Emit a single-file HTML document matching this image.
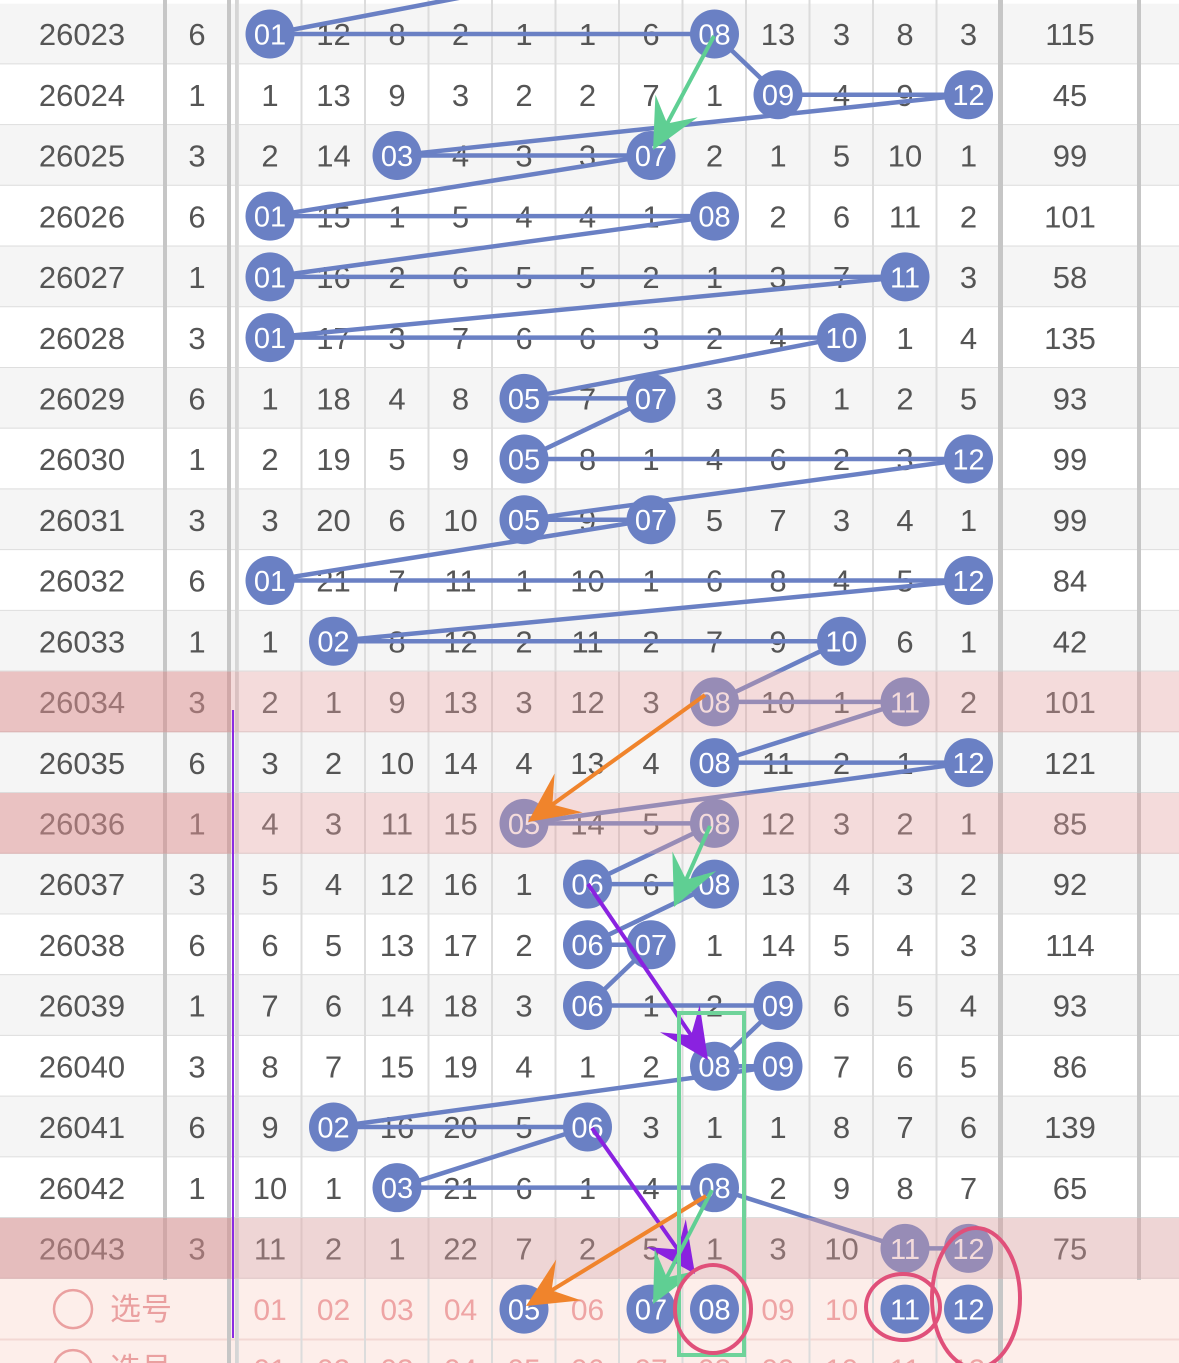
<!DOCTYPE html>
<html><head><meta charset="utf-8"><style>
html,body{margin:0;padding:0;background:#fff;}
svg{display:block;font-family:"Liberation Sans","Noto Sans CJK SC",sans-serif;}
</style></head><body>
<svg id="chart" width="1179" height="1363" viewBox="0 0 1179 1363" xmlns="http://www.w3.org/2000/svg"></svg>
<script>
const periods=["26023","26024","26025","26026","26027","26028","26029","26030","26031","26032","26033","26034","26035","26036","26037","26038","26039","26040","26041","26042","26043"];
const col2=[6,1,3,6,1,3,6,1,3,6,1,3,6,1,3,6,1,3,6,1,3];
const sums=[115,45,99,101,58,135,93,99,99,84,42,101,121,85,92,114,93,86,139,65,75];
const cells=[
[0,12,8,2,1,1,6,0,13,3,8,3],
[1,13,9,3,2,2,7,1,0,4,9,0],
[2,14,0,4,3,3,0,2,1,5,10,1],
[0,15,1,5,4,4,1,0,2,6,11,2],
[0,16,2,6,5,5,2,1,3,7,0,3],
[0,17,3,7,6,6,3,2,4,0,1,4],
[1,18,4,8,0,7,0,3,5,1,2,5],
[2,19,5,9,0,8,1,4,6,2,3,0],
[3,20,6,10,0,9,0,5,7,3,4,1],
[0,21,7,11,1,10,1,6,8,4,5,0],
[1,0,8,12,2,11,2,7,9,0,6,1],
[2,1,9,13,3,12,3,0,10,1,0,2],
[3,2,10,14,4,13,4,0,11,2,1,0],
[4,3,11,15,0,14,5,0,12,3,2,1],
[5,4,12,16,1,0,6,0,13,4,3,2],
[6,5,13,17,2,0,0,1,14,5,4,3],
[7,6,14,18,3,0,1,2,0,6,5,4],
[8,7,15,19,4,1,2,0,0,7,6,5],
[9,0,16,20,5,0,3,1,1,8,7,6],
[10,1,0,21,6,1,4,0,2,9,8,7],
[11,2,1,22,7,2,5,1,3,10,0,0]];
const highlighted=[11,13,20];
const pickBalls=[5,7,8,11,12];
const NS="http://www.w3.org/2000/svg";
const svg=document.getElementById('chart');
const rowY=i=>34+i*60.72;
const colX=c=>270+c*63.5;
function el(t,a,p){const e=document.createElementNS(NS,t);for(const k in a)e.setAttribute(k,a[k]);(p||svg).appendChild(e);return e;}
function txt(x,y,s,size,fill,p){const t=el('text',{x:x,y:y+size*0.36,'text-anchor':'middle','font-size':size,fill:fill},p);t.textContent=s;return t;}
const pad=n=>(n<10?'0':'')+n;
for(let i=0;i<periods.length;i++){
  const r=el('rect',{x:0,y:rowY(i)-30.36,width:1179,height:60.72,fill:i%2==0?'#f5f5f5':'#ffffff'});
  
  
  el('line',{x1:0,x2:1179,y1:rowY(i)+30.36,y2:rowY(i)+30.36,stroke:'#dddddd','stroke-width':2});
}
const pickY=rowY(21);
el('rect',{x:0,y:pickY-30.36,width:1179,height:120,fill:'#fdeeea'});
el('line',{x1:0,x2:1179,y1:pickY+30.36,y2:pickY+30.36,stroke:'#f3d8d4','stroke-width':2});
for(let c=0;c<=12;c++){const x=238+c*63.5;el('line',{x1:x,x2:x,y1:0,y2:1363,stroke:'#dcdcdc','stroke-width':2});}
el('rect',{x:163,y:0,width:4,height:1280,fill:'#c6c6c6'});
el('rect',{x:227,y:0,width:4,height:1363,fill:'#c6c6c6'});
el('rect',{x:235,y:0,width:3,height:1363,fill:'#d6d6d6'});
el('rect',{x:998,y:0,width:5,height:1363,fill:'#c6c6c6'});
el('rect',{x:1137,y:0,width:4,height:1280,fill:'#c6c6c6'});
const hits=[];
for(let i=0;i<periods.length;i++){
  const y=rowY(i);
  const p=txt(82,y,periods[i],31,'#555');
  
  txt(197,y,String(col2[i]),31,'#555');
  txt(1070,y,String(sums[i]),31,'#555');
  const h=[];
  cells[i].forEach((v,c)=>{if(v===0)h.push(c);else txt(colX(c),y,String(v),31,'#555');});
  hits.push(h);
}
const lg=el('g',{});
let prev={x:colX(5),y:rowY(-1)};
for(let i=0;i<hits.length;i++){
  hits[i].forEach(c=>{const p={x:colX(c),y:rowY(i)};el('line',{x1:prev.x,y1:prev.y,x2:p.x,y2:p.y,stroke:'#6a80c4','stroke-width':4.5},lg);prev=p;});
}
for(let i=0;i<hits.length;i++){
  hits[i].forEach(c=>{
    const g=el('g',{});
    
    
    el('circle',{cx:colX(c),cy:rowY(i),r:24.5,fill:'#6a80c4'},g);
    txt(colX(c),rowY(i),pad(c+1),29,'#fff',g);
  });
}
highlighted.forEach(i=>{
  const r=el('rect',{x:0,y:rowY(i)-30.36,width:1179,height:60.72,fill:'rgba(226,160,160,0.38)'});
  
  
  el('rect',{x:0,y:rowY(i)-30.36,width:231,height:60.72,fill:'rgba(210,130,130,0.28)'});
});
const pg=el('g',{});


el('circle',{cx:73,cy:pickY,r:19,fill:'none',stroke:'#eaa0a0','stroke-width':2.5},pg);
const pl=el('text',{x:110,y:pickY+11,'font-size':31,fill:'#eaa0a0'},pg);pl.textContent='选号';
el('circle',{cx:73,cy:pickY+60,r:19,fill:'none',stroke:'#eaa0a0','stroke-width':2.5},pg);
const pl2=el('text',{x:110,y:pickY+71,'font-size':31,fill:'#eaa0a0'},pg);pl2.textContent='选号';
for(let c=0;c<12;c++){
  if(pickBalls.indexOf(c+1)>=0){
    el('circle',{cx:colX(c),cy:pickY,r:24.5,fill:'#6a80c4'},pg);
    txt(colX(c),pickY,pad(c+1),29,'#fff',pg);
  } else txt(colX(c),pickY,pad(c+1),30,'#eea4a4',pg);
  txt(colX(c),pickY+60,pad(c+1),30,'#eea4a4',pg);
}
el('line',{x1:233,x2:233,y1:710,y2:1338,stroke:'#8a2be2','stroke-width':2});
function arrow(x1,y1,x2,y2,color,name){
  const g=el('g',{});
  
  
  const dx=x2-x1,dy=y2-y1,L=Math.hypot(dx,dy),ux=dx/L,uy=dy/L,nx=-uy,ny=ux;
  const hl=50,hw=24;
  const bx=x2-ux*hl,by=y2-uy*hl;
  el('line',{x1:x1,y1:y1,x2:x2-ux*20,y2:y2-uy*20,stroke:color,'stroke-width':4},g);
  const pts=[[x2,y2],[bx+nx*hw,by+ny*hw],[x2-ux*hl*0.6,y2-uy*hl*0.6],[bx-nx*hw,by-ny*hw]];
  el('polygon',{points:pts.map(p=>p.join(',')).join(' '),fill:color},g);
}
arrow(714,36,653,150,'#5fcf93','arrow-green-1');
arrow(705,695,528,822,'#f0842c','arrow-orange-1');
arrow(710,826,674,907,'#5fcf93','arrow-green-2');
arrow(588,884,708,1060,'#8a22e0','arrow-purple-1');
arrow(592,1128,695,1274,'#8a22e0','arrow-purple-2');
arrow(712,1190,653,1304,'#5fcf93','arrow-green-3');
arrow(706,1196,526,1306,'#f0842c','arrow-orange-2');
const box=el('rect',{x:679,y:1013,width:65,height:342,fill:'none',stroke:'#6fd39a','stroke-width':4});

const e1=el('ellipse',{cx:713,cy:1309,rx:38,ry:44,fill:'none',stroke:'#e0507a','stroke-width':4});

const e2=el('ellipse',{cx:903,cy:1307,rx:37,ry:33,fill:'none',stroke:'#e0507a','stroke-width':4});

const e3=el('ellipse',{cx:976,cy:1298,rx:44,ry:70,fill:'none',stroke:'#e0507a','stroke-width':4});

</script>
</body></html>
